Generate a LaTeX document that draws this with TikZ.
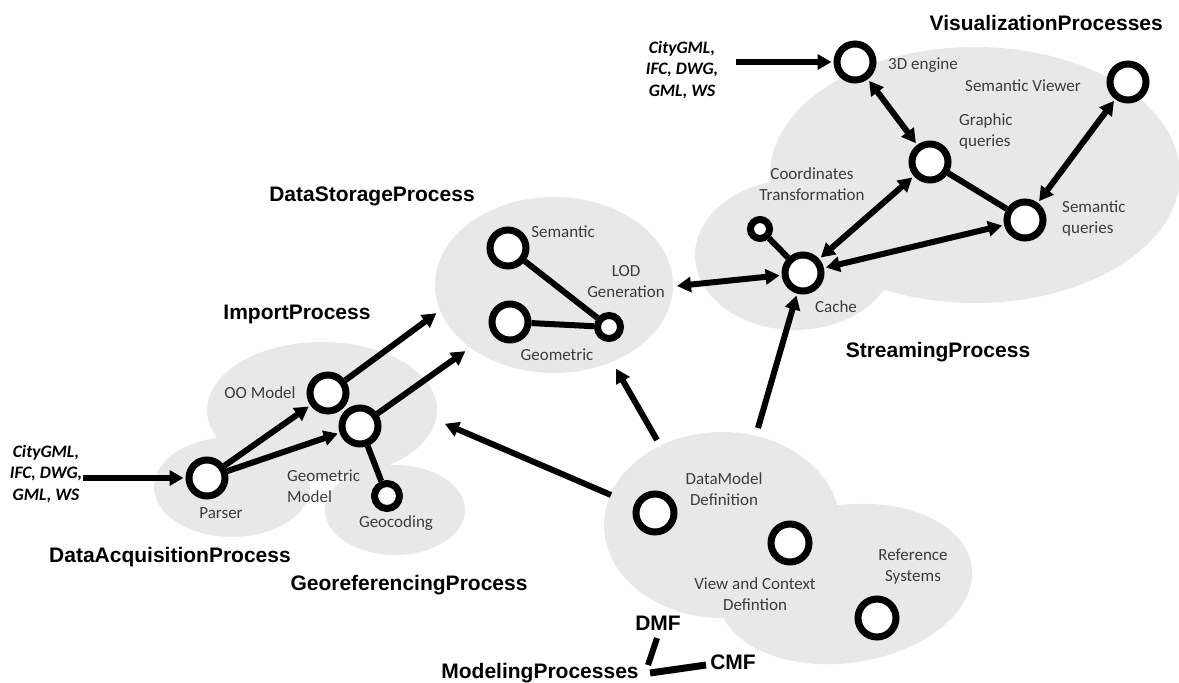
\documentclass[tikz,border=0pt]{standalone}
\usepackage{fontspec}
\setmainfont{Carlito}
\newfontfamily\headfont{Liberation Sans}
\usetikzlibrary{arrows.meta}
\definecolor{blobgray}{HTML}{E8E8E8}
\definecolor{labelgray}{HTML}{3C3C3C}
\pgfdeclarelayer{groups}
\pgfdeclarelayer{links}
\pgfsetlayers{groups,links,main}
\tikzset{
  blob/.style={fill=blobgray},
  proc/.style={circle, draw=black, fill=white, line width=7pt, minimum size=36pt, inner sep=0pt},
  smallproc/.style={proc, minimum size=20pt},
  link/.style={line width=6pt},
  tipA/.tip={Triangle[length=14pt,width=15pt]},
  flow/.style={link, -tipA, shorten >=2pt},
  both/.style={link, tipA-tipA, shorten >=2pt, shorten <=2pt},
  lbl/.style={font=\fontsize{17}{21}\selectfont, text=labelgray, align=center, inner sep=0pt},
  head/.style={font=\headfont\bfseries\fontsize{21}{25}\selectfont, inner sep=0pt},
  src/.style={font=\bfseries\itshape\fontsize{17.5}{21.5}\selectfont, align=center, inner sep=0pt},
}
\begin{document}
\begin{tikzpicture}[x=1pt,y=-1pt]
\useasboundingbox (0,0) rectangle (1179,683);

% process groups
\begin{pgfonlayer}{groups}
\fill[blob] (232,487) ellipse [x radius=78, y radius=50];
\fill[blob] (322,410) ellipse [x radius=115, y radius=68];
\fill[blob] (395,510) ellipse [x radius=70, y radius=45];
\fill[blob] (554,285) ellipse [x radius=119, y radius=88];
\fill[blob] (795,255) ellipse [x radius=100, y radius=75];
\fill[blob] (975,175) ellipse [x radius=205, y radius=128];
\fill[blob] (722,525) ellipse [x radius=118, y radius=93];
\fill[blob, rotate around={8:(845,584)}] (845,584) ellipse [x radius=128, y radius=79];
\end{pgfonlayer}

% process nodes
\node[proc] (eng) at (855,62) {};
\node[proc] (viewer) at (1128,82) {};
\node[proc] (gq) at (930,162) {};
\node[proc] (sq) at (1025,220) {};
\node[proc] (cache) at (803,273) {};
\node[smallproc, minimum size=19pt] (coord) at (760,229) {};
\node[proc] (sem) at (508,248) {};
\node[proc] (geo) at (510,322) {};
\node[smallproc, minimum size=23pt] (lod) at (609,327) {};
\node[proc] (oo) at (328,393) {};
\node[proc] (gm) at (360,426) {};
\node[proc] (parser) at (207,478) {};
\node[smallproc, minimum size=25pt] (gc) at (387,496) {};
\node[proc, minimum size=38pt] (dm) at (655,513) {};
\node[proc, minimum size=38pt] (vc) at (790,543) {};
\node[proc, minimum size=38pt] (ref) at (877,618) {};

% source formats
\node[src] (in1) at (46,474) {CityGML,\\IFC, DWG,\\GML, WS};
\node[src] (in2) at (682,70) {CityGML,\\IFC, DWG,\\GML, WS};

% free ends on the group outlines
\coordinate (dsA) at (438,312);
\coordinate (dsB) at (467,350);
\coordinate (dsC) at (615,367);
\coordinate (imp) at (443,423);
\coordinate (lodend) at (677,286);
\coordinate (mA) at (611,495);
\coordinate (mB) at (657,440);
\coordinate (mC) at (758,428);

% connectors
\begin{pgfonlayer}{links}
\draw[link] (gq) -- (sq);
\draw[link] (coord) -- (cache);
\draw[link] (sem) -- (lod);
\draw[link] (geo) -- (lod);
\draw[link] (gm) -- (gc);

\draw[flow] ([xshift=1pt]in1.east |- parser) -- (parser);
\draw[flow] ([xshift=18pt]in2.east |- eng) -- (eng);
\draw[flow] (parser) -- (oo);
\draw[flow] (parser) -- (gm);
\draw[flow] (oo) -- (dsA);
\draw[flow] (gm) -- (dsB);
\draw[flow] (mA) -- (imp);
\draw[flow] (mB) -- (dsC);
\draw[flow] (mC) -- (cache);

\draw[both] (eng) -- (gq);
\draw[both] (viewer) -- (sq);
\draw[both] (gq) -- (cache);
\draw[both] (sq) -- (cache);
\draw[both, shorten <=0pt] (lodend) -- (cache);
\end{pgfonlayer}

% node labels
\node[lbl] at (923,65) {3D engine};
\node[lbl] at (1023,86) {Semantic Viewer};
\node[lbl, anchor=west, align=left] at (959,131) {Graphic\\queries};
\node[lbl, anchor=west, align=left] at (1062,218) {Semantic\\queries};
\node[lbl] at (812,184) {Coordinates\\Transformation};
\node[lbl] at (836,307) {Cache};
\node[lbl] at (563,232) {Semantic};
\node[lbl] at (626,282) {LOD\\Generation};
\node[lbl] at (557,355) {Geometric};
\node[lbl] at (260,393) {OO Model};
\node[lbl, anchor=west, align=left] at (287,486) {Geometric\\Model};
\node[lbl] at (221,513) {Parser};
\node[lbl] at (396,523) {Geocoding};
\node[lbl] at (724,489) {DataModel\\Definition};
\node[lbl] at (755,594) {View and Context\\Defintion};
\node[lbl] at (913,567) {Reference\\Systems};

% group titles
\node[head, anchor=east] at (1163,23) {VisualizationProcesses};
\node[head] at (372,196) {DataStorageProcess};
\node[head] at (297,314) {ImportProcess};
\node[head] at (938,352) {StreamingProcess};
\node[head] at (170,557) {DataAcquisitionProcess};
\node[head] at (409,585) {GeoreferencingProcess};
\node[head] (dmf) at (658,623) {DMF};
\node[head] (cmf) at (733,662) {CMF};
\node[head] (mp) at (540,673) {ModelingProcesses};

% modeling frameworks
\coordinate (dmfFoot) at (657,638);
\coordinate (dmfEnd) at (648,665);
\coordinate (cmfStart) at (650,673);
\coordinate (cmfEnd) at (706,665);
\draw[line width=6pt] (dmfFoot) -- (dmfEnd);
\draw[line width=7pt] (cmfStart) -- (cmfEnd);
\end{tikzpicture}
\end{document}
